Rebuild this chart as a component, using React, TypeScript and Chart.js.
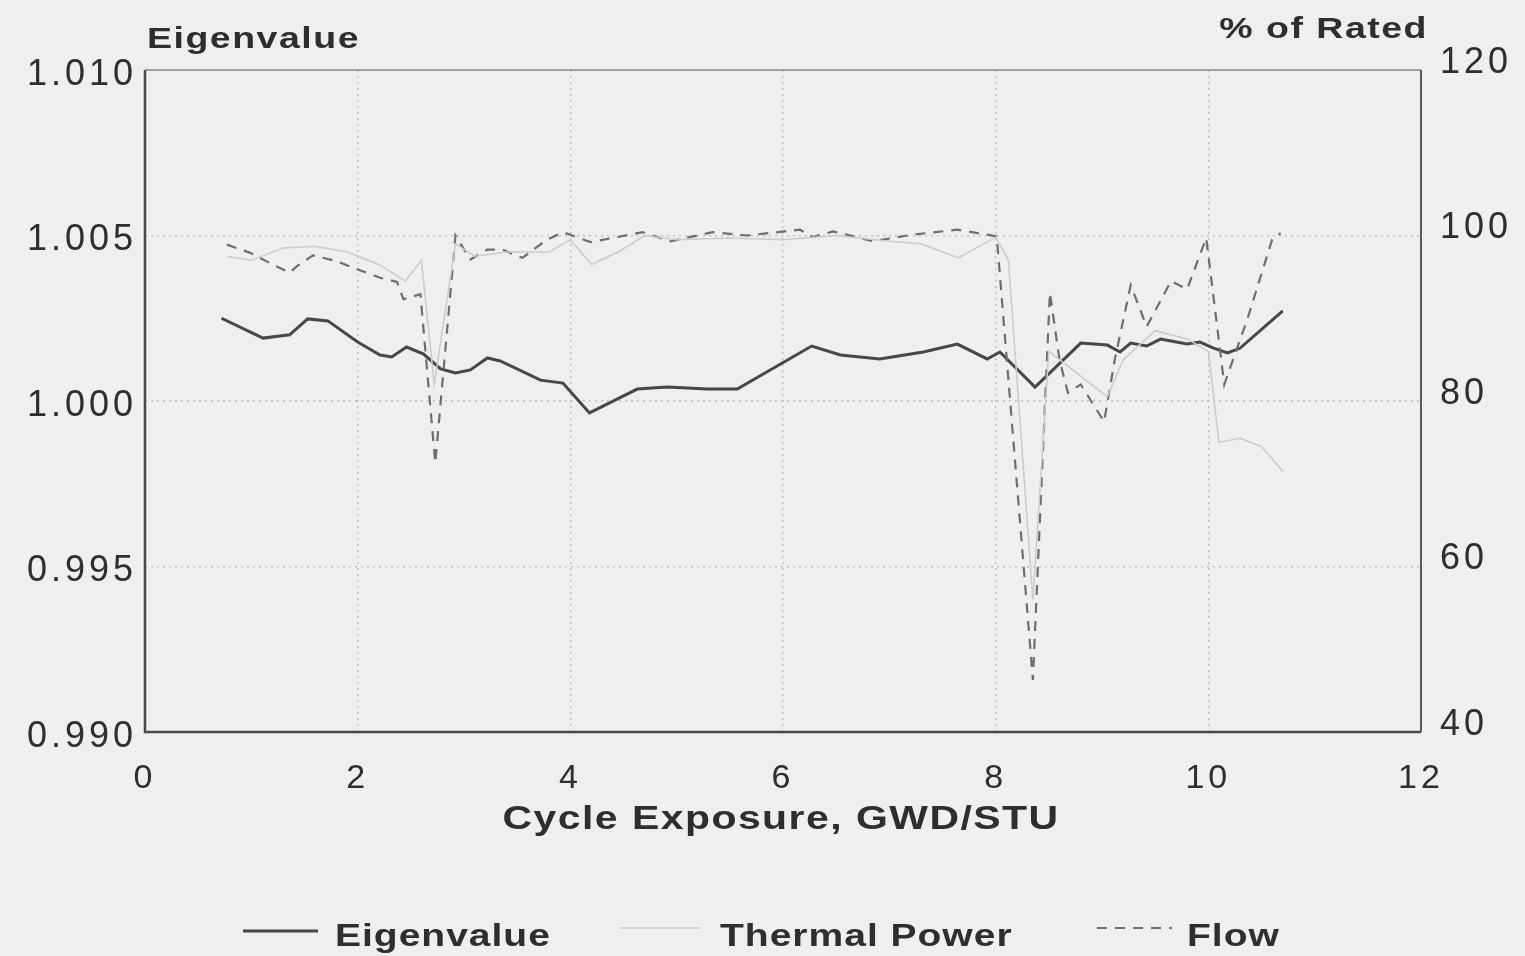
import React, { useEffect, useRef } from 'react';
import { Chart, registerables } from 'chart.js';

Chart.register(...registerables);

// ---- data ----
const xTickValues = [0, 2, 4, 6, 8, 10, 12];
const leftTickValues = [0.99, 0.995, 1.0, 1.005, 1.01];
const rightTickValues = [40, 60, 80, 100, 120];

const seriesLabels = ['Eigenvalue', 'Thermal Power', 'Flow'];
const leftAxisTitle = 'Eigenvalue';
const rightAxisTitle = '% of Rated';
const xAxisTitle = 'Cycle Exposure, GWD/STU';

const eigX = [0.72, 1.11, 1.36, 1.53, 1.72, 2.0, 2.21, 2.32, 2.46, 2.62, 2.78, 2.92, 3.06, 3.22, 3.34, 3.72, 3.93, 4.18, 4.63, 4.91, 5.29, 5.57, 6.27, 6.54, 6.91, 7.32, 7.64, 7.92, 8.04, 8.37, 8.8, 9.05, 9.17, 9.27, 9.42, 9.55, 9.8, 9.92, 10.05, 10.18, 10.3, 10.7];
const eigY = [1.0025, 1.0019, 1.002, 1.00248, 1.00242, 1.00178, 1.00139, 1.00133, 1.00163, 1.00142, 1.00097, 1.00085, 1.00094, 1.0013, 1.00121, 1.00063, 1.00054, 0.99964, 1.00036, 1.00042, 1.00036, 1.00036, 1.00166, 1.00139, 1.00127, 1.00148, 1.00172, 1.00127, 1.00148, 1.00042, 1.00175, 1.00169, 1.00148, 1.00175, 1.00166, 1.00187, 1.00172, 1.00178, 1.0016, 1.00145, 1.0016, 1.00272];

const thermalX = [0.77, 1.0, 1.3, 1.6, 1.9, 2.2, 2.45, 2.6, 2.72, 2.92, 3.1, 3.4, 3.8, 4.0, 4.2, 4.45, 4.7, 5.0, 5.5, 6.0, 6.5, 7.0, 7.3, 7.65, 8.0, 8.12, 8.35, 8.5, 8.7, 8.9, 9.05, 9.2, 9.5, 9.8, 10.0, 10.1, 10.3, 10.5, 10.7];
const thermalY = [97.5, 97, 98.5, 98.7, 98, 96.5, 94.5, 97, 82, 99, 97.5, 98, 98, 99.5, 96.5, 98, 100, 99.5, 99.7, 99.5, 100, 99.3, 99, 97.3, 99.8, 97, 56, 86, 84, 82, 80.5, 85, 88.5, 87.5, 86, 75, 75.5, 74.5, 71.5];

const flowX = [0.77, 0.99, 1.2, 1.36, 1.43, 1.58, 1.8, 2.0, 2.21, 2.37, 2.43, 2.59, 2.73, 2.92, 3.06, 3.22, 3.36, 3.55, 3.78, 3.93, 4.19, 4.56, 4.68, 4.94, 5.34, 5.66, 6.16, 6.28, 6.47, 6.85, 7.22, 7.64, 8.01, 8.35, 8.51, 8.6, 8.68, 8.8, 9.02, 9.12, 9.27, 9.42, 9.65, 9.8, 9.98, 10.15, 10.37, 10.6, 10.68];
const flowY = [98.9, 97.9, 96.5, 95.5, 96.3, 97.6, 96.9, 95.9, 94.9, 94.4, 92.3, 92.9, 72.5, 100, 97.1, 98.3, 98.3, 97.3, 99.5, 100.4, 99.2, 100.1, 100.4, 99.3, 100.4, 100, 100.7, 99.8, 100.5, 99.3, 100.1, 100.7, 99.9, 46.3, 93.1, 85, 81, 82, 77.5, 85, 94, 89, 94.5, 93.5, 99.7, 82, 90, 99.5, 100.3];

// ---- styling ----
const W = 1525;
const H = 956;
const AREA = { left: 145, right: 1421, top: 70, bottom: 732 };
const BG = '#efefef';
const TEXT = '#2e2e2e';
const FONT = '"Liberation Sans", Arial, Helvetica, sans-serif';
const EIG_COLOR = '#474747';
const THERMAL_COLOR = '#cbcbcb';
const FLOW_COLOR = '#6e6e6e';
const GRID_COLOR = '#c2c2c2';

const zip = (xs: number[], ys: number[]) => xs.map((x, i) => ({ x, y: ys[i] }));

// draw text stretched horizontally (the reference is a horizontally stretched scan)
function stretchedText(ctx: CanvasRenderingContext2D, text: string, x: number, y: number, align: 'left' | 'right' | 'center', sx: number) {
  ctx.save();
  ctx.textAlign = 'left';
  const w = ctx.measureText(text).width * sx;
  let left = x;
  if (align === 'right') left = x - w;
  else if (align === 'center') left = x - w / 2;
  ctx.translate(left, y);
  ctx.scale(sx, 1);
  ctx.fillText(text, 0, 0);
  ctx.restore();
}

const decorPlugin = {
  id: 'decor',
  beforeDraw(chart: any) {
    const ctx = chart.ctx;
    ctx.save();
    ctx.fillStyle = BG;
    ctx.fillRect(0, 0, W, H);
    ctx.restore();
    ctx.letterSpacing = '4px';
  },
  beforeDatasetsDraw(chart: any) {
    const ctx = chart.ctx;
    const a = chart.chartArea;
    ctx.save();
    ctx.lineCap = 'butt';
    ctx.strokeStyle = '#8a8a8a';
    ctx.lineWidth = 1.5;
    ctx.beginPath();
    ctx.moveTo(a.left, a.top);
    ctx.lineTo(a.right, a.top);
    ctx.stroke();
    ctx.strokeStyle = '#5a5a5a';
    ctx.lineWidth = 2;
    ctx.beginPath();
    ctx.moveTo(a.right, a.top);
    ctx.lineTo(a.right, a.bottom);
    ctx.stroke();
    ctx.strokeStyle = '#4a4a4a';
    ctx.lineWidth = 2.5;
    ctx.beginPath();
    ctx.moveTo(a.left, a.top);
    ctx.lineTo(a.left, a.bottom);
    ctx.lineTo(a.right, a.bottom);
    ctx.stroke();
    ctx.restore();
  },
  afterDraw(chart: any) {
    const ctx = chart.ctx;
    const a = chart.chartArea;
    ctx.save();
    ctx.fillStyle = TEXT;
    ctx.textBaseline = 'alphabetic';
    ctx.font = `bold 30px ${FONT}`;
    ctx.letterSpacing = '1.2px';
    stretchedText(ctx, leftAxisTitle, 147, 48, 'left', 1.25);
    stretchedText(ctx, rightAxisTitle, 1428, 38, 'right', 1.25);
    ctx.font = `bold 33px ${FONT}`;
    ctx.letterSpacing = '1.2px';
    stretchedText(ctx, xAxisTitle, (a.left + a.right) / 2 - 2, 829, 'center', 1.24);

    const items = [
      { x0: 243, x1: 318, tx: 335, ly: 931, color: EIG_COLOR, width: 3, dash: [] as number[] },
      { x0: 620, x1: 700, tx: 720, ly: 928, color: THERMAL_COLOR, width: 1.5, dash: [] as number[] },
      { x0: 1097, x1: 1172, tx: 1187, ly: 928, color: FLOW_COLOR, width: 2, dash: [10, 8] },
    ];
    ctx.font = `bold 32px ${FONT}`;
    ctx.letterSpacing = '0.8px';
    items.forEach((it, i) => {
      ctx.save();
      ctx.strokeStyle = it.color;
      ctx.lineWidth = it.width;
      ctx.setLineDash(it.dash);
      ctx.beginPath();
      ctx.moveTo(it.x0, it.ly);
      ctx.lineTo(it.x1, it.ly);
      ctx.stroke();
      ctx.restore();
      ctx.fillStyle = TEXT;
      stretchedText(ctx, seriesLabels[i], it.tx, 946, 'left', 1.22);
    });
    ctx.restore();
  },
};

export default function App() {
  const ref = useRef<HTMLCanvasElement | null>(null);

  useEffect(() => {
    if (!ref.current) return;
    const edgeX = (v: number) => v === xTickValues[0] || v === xTickValues[xTickValues.length - 1];
    const edgeY = (v: number) =>
      Math.abs(v - leftTickValues[0]) < 1e-9 || Math.abs(v - leftTickValues[leftTickValues.length - 1]) < 1e-9;

    const chart = new Chart(ref.current, {
      type: 'line',
      data: {
        datasets: [
          {
            label: seriesLabels[1],
            data: zip(thermalX, thermalY),
            yAxisID: 'y1',
            borderColor: THERMAL_COLOR,
            borderWidth: 1.5,
            pointRadius: 0,
            tension: 0,
            fill: false,
          },
          {
            label: seriesLabels[2],
            data: zip(flowX, flowY),
            yAxisID: 'y1',
            borderColor: FLOW_COLOR,
            borderWidth: 2.2,
            borderDash: [10, 8],
            pointRadius: 0,
            tension: 0,
            fill: false,
          },
          {
            label: seriesLabels[0],
            data: zip(eigX, eigY),
            yAxisID: 'y',
            borderColor: EIG_COLOR,
            borderWidth: 3,
            pointRadius: 0,
            tension: 0,
            fill: false,
          },
        ],
      },
      options: {
        responsive: false,
        animation: false,
        devicePixelRatio: 1,
        layout: { padding: { top: AREA.top, left: 0, right: 0, bottom: 0 } },
        plugins: {
          legend: { display: false },
          tooltip: { enabled: false },
          title: { display: false },
        },
        scales: {
          x: {
            type: 'linear',
            min: xTickValues[0],
            max: xTickValues[xTickValues.length - 1],
            afterBuildTicks: (s: any) => {
              s.ticks = xTickValues.map((v) => ({ value: v }));
            },
            afterFit: (s: any) => {
              s.height = H - AREA.bottom;
            },
            ticks: {
              color: TEXT,
              font: { family: FONT, size: 34 },
              padding: 26,
              maxRotation: 0,
              autoSkip: false,
              callback: (v: any) => String(v),
            },
            grid: {
              drawTicks: false,
              color: (c: any) => (edgeX(c.tick?.value) ? 'rgba(0,0,0,0)' : GRID_COLOR),
              lineWidth: 1.5,
            },
            border: { display: false, dash: [2, 4] },
          },
          y: {
            type: 'linear',
            position: 'left',
            min: leftTickValues[0],
            max: leftTickValues[leftTickValues.length - 1],
            afterBuildTicks: (s: any) => {
              s.ticks = leftTickValues.map((v) => ({ value: v }));
            },
            afterFit: (s: any) => {
              s.width = AREA.left;
            },
            ticks: {
              color: TEXT,
              font: { family: FONT, size: 36 },
              padding: 8,
              labelOffset: 5,
              autoSkip: false,
              callback: (v: any) => Number(v).toFixed(3),
            },
            grid: {
              drawTicks: false,
              color: (c: any) => (edgeY(c.tick?.value) ? 'rgba(0,0,0,0)' : GRID_COLOR),
              lineWidth: 1.5,
            },
            border: { display: false, dash: [2, 4] },
          },
          y1: {
            type: 'linear',
            position: 'right',
            min: rightTickValues[0],
            max: rightTickValues[rightTickValues.length - 1],
            afterBuildTicks: (s: any) => {
              s.ticks = rightTickValues.map((v) => ({ value: v }));
            },
            afterFit: (s: any) => {
              s.width = W - AREA.right;
            },
            ticks: {
              color: TEXT,
              font: { family: FONT, size: 36 },
              padding: 19,
              labelOffset: -7,
              autoSkip: false,
              callback: (v: any) => String(v),
            },
            grid: { drawOnChartArea: false, drawTicks: false },
            border: { display: false },
          },
        },
      },
      plugins: [decorPlugin],
    } as any);

    return () => chart.destroy();
  }, []);

  return (
    <div style={{ position: 'absolute', left: 0, top: 0, width: W, height: H, background: BG }}>
      <canvas ref={ref} width={W} height={H} style={{ display: 'block', width: W, height: H }} />
    </div>
  );
}
